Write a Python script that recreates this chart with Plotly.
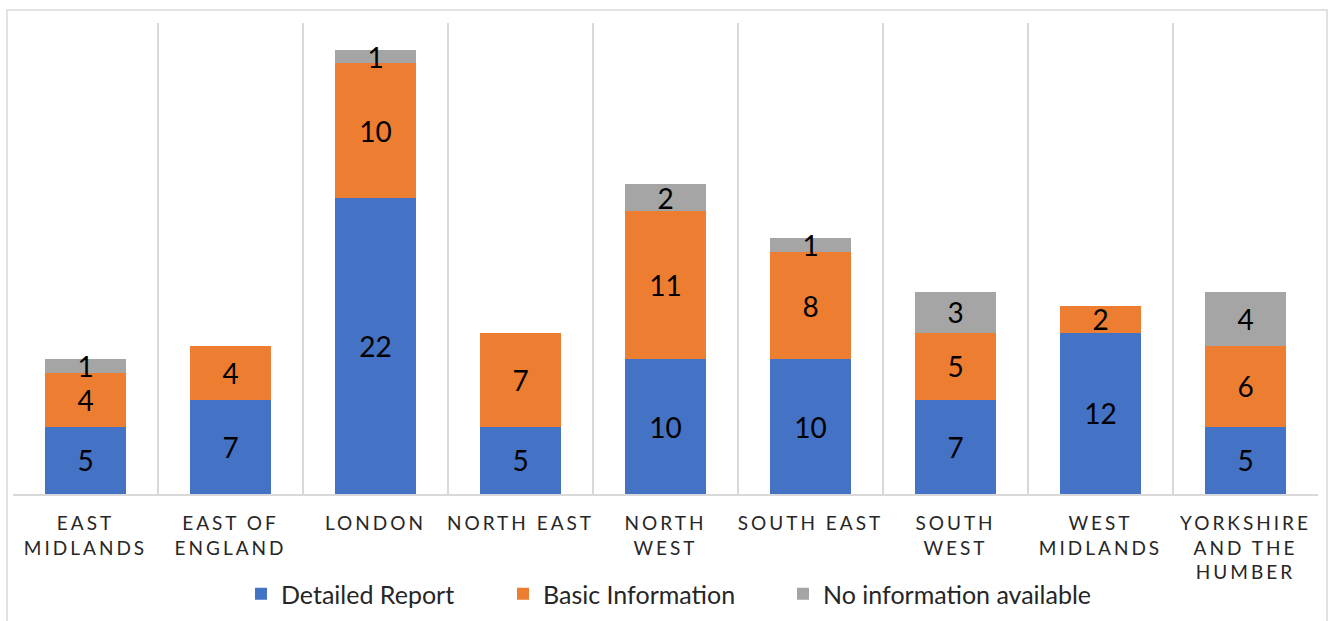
import plotly.graph_objects as go

categories = ["EAST<br>MIDLANDS", "EAST OF<br>ENGLAND", "LONDON", "NORTH EAST", "NORTH<br>WEST",
              "SOUTH EAST", "SOUTH<br>WEST", "WEST<br>MIDLANDS", "YORKSHIRE<br>AND THE<br>HUMBER"]
detailed = [5, 7, 22, 5, 10, 10, 7, 12, 5]
basic = [4, 4, 10, 7, 11, 8, 5, 2, 6]
noinfo = [1, 0, 1, 0, 2, 1, 3, 0, 4]

series = [
    ("Detailed Report", detailed, "#4472C4"),
    ("Basic Information", basic, "#ED7D31"),
    ("No information available", noinfo, "#A5A5A5"),
]

W, H = 1329, 621
ML, MR, MT, MB = 13, 11, 23, 127
PW, PH = W - ML - MR, H - MT - MB
legend_px = [241, 503, 783]   # left edge of each legend entry (px)
legend_cy = 594

fig = go.Figure()
legend_names = ["legend", "legend2", "legend3"]
for (name, vals, col), lg in zip(series, legend_names):
    fig.add_trace(go.Bar(
        name=name, x=categories, y=[v if v else None for v in vals],
        marker=dict(color=col, line=dict(width=0)),
        text=[str(v) if v else "" for v in vals],
        textposition="inside", insidetextanchor="middle", textangle=0,
        constraintext="none",
        textfont=dict(family="Lato, sans-serif", size=28, color="#000000"),
        cliponaxis=False, legend=lg,
    ))

legend_common = dict(orientation="h", yanchor="middle", xanchor="left",
                     font=dict(size=25, color="#262626"), itemwidth=30,
                     bgcolor="rgba(0,0,0,0)")
layout_legends = {}
for lg, px in zip(legend_names, legend_px):
    layout_legends[lg] = dict(legend_common, x=(px - ML) / PW, y=(H - MB - legend_cy) / PH)

fig.update_layout(
    barmode="stack", bargap=0.435,
    width=W, height=H,
    margin=dict(l=ML, r=MR, t=MT, b=MB, autoexpand=False),
    paper_bgcolor="white", plot_bgcolor="white",
    font=dict(family="Lato, sans-serif", color="#262626"),
    showlegend=True,
    uniformtext=dict(mode=False),
    **layout_legends,
)
fig.update_xaxes(tickson="boundaries", showgrid=True, gridcolor="#D9D9D9", gridwidth=2,
                 showline=True, linecolor="#D9D9D9", linewidth=2, ticks="",
                 ticklabelstandoff=11, automargin=False,
                 tickfont=dict(size=19, color="#262626"), tickangle=0)
fig.update_yaxes(range=[0, 35], visible=False, showgrid=False, automargin=False)

fig.add_shape(type="rect", xref="paper", yref="paper", x0=-0.0046, x1=1.0069, y0=-0.3, y1=1.0276,
              line=dict(color="#D9D9D9", width=1.5), fillcolor="rgba(0,0,0,0)", layer="below")

post = """
var s=document.createElement('style');
s.innerHTML='.xtick text{letter-spacing:3px;}';
document.head.appendChild(s);
"""
fig.write_html("out.html", post_script=post)
